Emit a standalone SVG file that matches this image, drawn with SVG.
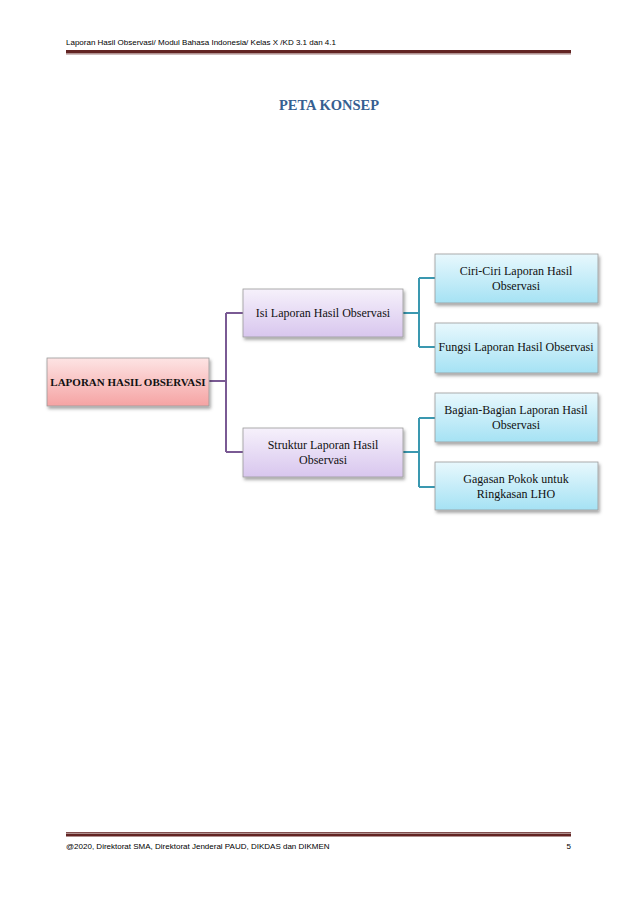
<svg xmlns="http://www.w3.org/2000/svg" width="638" height="903" viewBox="0 0 638 903">
<defs>
<linearGradient id="gPink" x1="0" y1="0" x2="0" y2="1"><stop offset="0" stop-color="#fde4e4"/><stop offset="1" stop-color="#f5a3a3"/></linearGradient>
<linearGradient id="gPurple" x1="0" y1="0" x2="0" y2="1"><stop offset="0" stop-color="#f6f1fb"/><stop offset="1" stop-color="#d8c6ee"/></linearGradient>
<linearGradient id="gBlue" x1="0" y1="0" x2="0" y2="1"><stop offset="0" stop-color="#e8f8fd"/><stop offset="1" stop-color="#a5e2f4"/></linearGradient>
<filter id="sh" x="-10%" y="-10%" width="125%" height="140%"><feDropShadow dx="1.5" dy="2.5" stdDeviation="1.5" flood-color="#000" flood-opacity="0.35"/></filter>
</defs>
<style>
.hdr{font-family:"Liberation Sans",Arial,sans-serif;font-size:8px;fill:#000}
.box{stroke:#9a9a9a;stroke-width:0.8;filter:url(#sh)}
.t{font-family:"Liberation Serif","Times New Roman",serif;font-size:12px;fill:#111;text-anchor:middle}
.tb{font-family:"Liberation Serif","Times New Roman",serif;font-size:11px;font-weight:bold;fill:#111;text-anchor:middle}
.pc{fill:none;stroke:#7a5a94;stroke-width:2}
.bc{fill:none;stroke:#3a98b0;stroke-width:2}
</style>
<rect width="638" height="903" fill="#fff"/>
<g id="header">
<text class="hdr" x="66" y="45">Laporan Hasil Observasi/ Modul Bahasa Indonesia/ Kelas X /KD 3.1 dan 4.1</text>
<rect x="66" y="50" width="505" height="3" fill="#622423"/>
<rect x="66" y="53.5" width="505" height="0.8" fill="#622423"/>
</g>
<text x="329" y="110" font-family="Liberation Serif,'Times New Roman',serif" font-size="14.5" font-weight="bold" fill="#365f91" text-anchor="middle">PETA KONSEP</text>
<g id="connectors">
<path class="pc" d="M209,381 H226 M226,313 V452 M226,313 H243 M226,452 H243"/>
<path class="bc" d="M403,313 H419 M419,278 V347 M419,278 H435 M419,347 H435"/>
<path class="bc" d="M403,452 H419 M419,418 V487 M419,418 H435 M419,487 H435"/>
</g>
<g id="root">
<rect class="box" x="47" y="358" width="162" height="48" fill="url(#gPink)"/>
<text class="tb" x="128" y="386">LAPORAN HASIL OBSERVASI</text>
</g>
<g id="isi">
<rect class="box" x="243" y="289" width="160" height="48" fill="url(#gPurple)"/>
<text class="t" x="323" y="317">Isi Laporan Hasil Observasi</text>
</g>
<g id="struktur">
<rect class="box" x="243" y="428" width="160" height="49" fill="url(#gPurple)"/>
<text class="t" x="323" y="449">Struktur Laporan Hasil</text>
<text class="t" x="323" y="464">Observasi</text>
</g>
<g id="ciri">
<rect class="box" x="435" y="254" width="163" height="49" fill="url(#gBlue)"/>
<text class="t" x="516" y="275">Ciri-Ciri  Laporan Hasil</text>
<text class="t" x="516" y="290">Observasi</text>
</g>
<g id="fungsi">
<rect class="box" x="435" y="323" width="163" height="50" fill="url(#gBlue)"/>
<text class="t" x="516" y="351">Fungsi Laporan Hasil Observasi</text>
</g>
<g id="bagian">
<rect class="box" x="435" y="393" width="163" height="49" fill="url(#gBlue)"/>
<text class="t" x="516" y="414">Bagian-Bagian Laporan Hasil</text>
<text class="t" x="516" y="429">Observasi</text>
</g>
<g id="gagasan">
<rect class="box" x="435" y="462" width="163" height="48" fill="url(#gBlue)"/>
<text class="t" x="516" y="483">Gagasan Pokok untuk</text>
<text class="t" x="516" y="498">Ringkasan LHO</text>
</g>
<g id="footer">
<rect x="66" y="832" width="505" height="0.8" fill="#622423"/>
<rect x="66" y="833.5" width="505" height="3" fill="#622423"/>
<text class="hdr" x="66" y="849">@2020, Direktorat SMA, Direktorat Jenderal PAUD, DIKDAS dan DIKMEN</text>
<text class="hdr" x="571" y="849" text-anchor="end">5</text>
</g>
</svg>
